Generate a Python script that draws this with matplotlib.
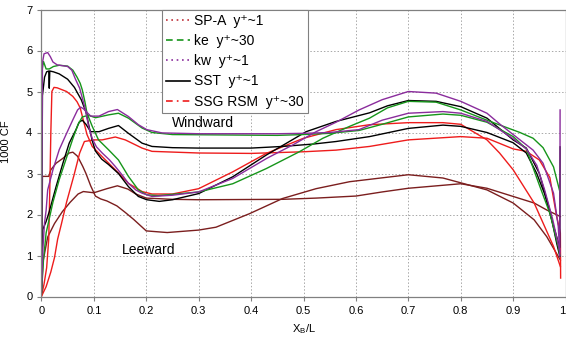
import matplotlib
matplotlib.use("Agg")
import matplotlib.pyplot as plt
from matplotlib.lines import Line2D

plt.rcParams['font.family'] = ['Liberation Sans', 'DejaVu Sans']
plt.rcParams['mathtext.fontset'] = 'custom'
plt.rcParams['mathtext.rm'] = 'Liberation Sans'

# ---- skin-friction data, 1000*CF versus X_B/L ----
# kw, y+~1
kw_lee_x = [0, 0.002, 0.005, 0.012, 0.017, 0.022, 0.03, 0.05, 0.058, 0.065, 0.073, 0.08, 0.085, 0.09,
            0.097, 0.105, 0.116, 0.13, 0.141, 0.155, 0.166, 0.18, 0.192, 0.211, 0.25, 0.3, 0.365,
            0.43, 0.48, 0.524, 0.562, 0.606, 0.65, 0.7, 0.753, 0.8, 0.85, 0.875, 0.9, 0.938, 0.957,
            0.977, 0.986, 0.989, 0.9895]
kw_lee_y = [0.1, 5.7, 5.92, 5.95, 5.85, 5.72, 5.65, 5.61, 5.52, 5.3, 5.08, 4.75, 4.5, 4.15,
            3.85, 3.65, 3.5, 3.33, 3.17, 2.95, 2.76, 2.6, 2.52, 2.44, 2.47, 2.55, 2.88,
            3.37, 3.7, 4.02, 4.25, 4.55, 4.8, 5.0, 4.96, 4.76, 4.47, 4.2, 3.95, 3.57, 3.25,
            2.52, 1.71, 0.98, 4.55]
kw_wind_x = [0, 0.003, 0.006, 0.009, 0.012, 0.022, 0.034, 0.047, 0.06, 0.069, 0.075, 0.08, 0.094,
             0.11, 0.128, 0.145, 0.166, 0.185, 0.201, 0.23, 0.3, 0.45, 0.5, 0.55, 0.606, 0.65,
             0.7, 0.766, 0.8, 0.85, 0.9, 0.925, 0.945, 0.96, 0.975, 0.989]
kw_wind_y = [0.1, 1.2, 1.8, 2.1, 2.6, 3.09, 3.58, 3.95, 4.31, 4.55, 4.62, 4.58, 4.4,
             4.4, 4.51, 4.56, 4.39, 4.19, 4.07, 3.99, 3.97, 3.97, 3.98, 4.0, 4.07, 4.3,
             4.47, 4.51, 4.47, 4.27, 3.85, 3.6, 3.2, 2.6, 1.9, 1.1]

# ke, y+~30
ke_lee_x = [0, 0.001, 0.004, 0.009, 0.015, 0.023, 0.034, 0.05, 0.06, 0.068, 0.074, 0.078, 0.083,
            0.087, 0.097, 0.109, 0.128, 0.147, 0.166, 0.185, 0.201, 0.223, 0.3, 0.365, 0.429,
            0.492, 0.537, 0.588, 0.626, 0.66, 0.7, 0.753, 0.8, 0.85, 0.875, 0.913, 0.938, 0.957,
            0.977, 0.989]
ke_lee_y = [0.1, 5.5, 5.73, 5.55, 5.55, 5.61, 5.64, 5.62, 5.52, 5.35, 5.2, 5.04, 4.75,
            4.47, 4.15, 3.82, 3.58, 3.33, 2.93, 2.6, 2.48, 2.46, 2.55, 2.75, 3.12,
            3.53, 3.86, 4.15, 4.35, 4.6, 4.76, 4.74, 4.55, 4.3, 4.18, 4.0, 3.86, 3.63,
            3.16, 2.56]
ke_wind_x = [0, 0.004, 0.009, 0.022, 0.034, 0.047, 0.06, 0.07, 0.078, 0.09, 0.103, 0.128, 0.147,
             0.166, 0.192, 0.211, 0.25, 0.35, 0.45, 0.5, 0.55, 0.606, 0.65, 0.7, 0.766, 0.8,
             0.85, 0.9, 0.925, 0.951, 0.97, 0.986, 0.989]
ke_wind_y = [0.05, 0.9, 1.55, 2.3, 2.85, 3.35, 3.85, 4.2, 4.38, 4.42, 4.36, 4.43, 4.47,
             4.35, 4.11, 4.0, 3.95, 3.94, 3.93, 3.95, 3.98, 4.05, 4.2, 4.38, 4.45, 4.42,
             4.25, 3.9, 3.6, 2.68, 2.03, 1.21, 1.0]

# SST, y+~1
sst_lee_x = [0, 0.002, 0.006, 0.01, 0.014, 0.015, 0.016, 0.023, 0.034, 0.05, 0.063, 0.076, 0.085,
             0.09, 0.097, 0.103, 0.115, 0.128, 0.147, 0.166, 0.185, 0.201, 0.225, 0.25, 0.3,
             0.365, 0.429, 0.473, 0.505, 0.562, 0.626, 0.66, 0.7, 0.753, 0.8, 0.85, 0.9, 0.925,
             0.95, 0.97, 0.983, 0.989]
sst_lee_y = [0.1, 4.9, 5.35, 5.48, 5.5, 5.08, 5.5, 5.48, 5.43, 5.3, 5.1, 4.8, 4.5,
             4.2, 3.8, 3.55, 3.35, 3.22, 3.0, 2.68, 2.44, 2.36, 2.32, 2.36, 2.51,
             2.92, 3.45, 3.78, 4.02, 4.27, 4.48, 4.65, 4.78, 4.76, 4.63, 4.35, 3.82, 3.62,
             3.0, 2.1, 1.3, 0.98]
sst_wind_x = [0, 0.0025, 0.009, 0.015, 0.028, 0.041, 0.053, 0.066, 0.072, 0.078, 0.085, 0.094,
              0.11, 0.128, 0.147, 0.166, 0.192, 0.211, 0.25, 0.3, 0.4, 0.46, 0.52, 0.562, 0.626,
              0.7, 0.766, 0.8, 0.85, 0.9, 0.925, 0.945, 0.96, 0.975, 0.989, 0.9895]
sst_wind_y = [0.1, 1.63, 1.83, 2.07, 2.68, 3.25, 3.74, 4.07, 4.25, 4.3, 4.2, 4.02,
              4.02, 4.1, 4.17, 3.98, 3.74, 3.66, 3.63, 3.62, 3.62, 3.66, 3.72, 3.78, 3.9,
              4.1, 4.18, 4.15, 4.0, 3.75, 3.5, 3.0, 2.5, 1.8, 1.2, 3.65]

# SSG RSM, y+~30
ssg_lee_x = [0, 0.005, 0.01, 0.014, 0.016, 0.018, 0.02, 0.024, 0.03, 0.048, 0.06, 0.068, 0.074,
             0.08, 0.087, 0.097, 0.116, 0.141, 0.166, 0.192, 0.211, 0.25, 0.3, 0.365, 0.429,
             0.5, 0.562, 0.626, 0.7, 0.766, 0.8, 0.85, 0.874, 0.9, 0.94, 0.977, 0.99]
ssg_lee_y = [0.0, 0.3, 0.7, 1.4, 2.6, 4.0, 5.0, 5.1, 5.09, 5.0, 4.88, 4.75, 4.6,
             4.3, 3.95, 3.66, 3.41, 3.09, 2.76, 2.56, 2.5, 2.5, 2.63, 3.04, 3.49,
             3.86, 4.07, 4.19, 4.24, 4.24, 4.2, 3.82, 3.5, 3.09, 2.28, 1.22, 0.73]
ssg_wind_x = [0, 0.009, 0.018, 0.025, 0.031, 0.038, 0.048, 0.062, 0.073, 0.082, 0.1, 0.116,
              0.141, 0.16, 0.192, 0.211, 0.3, 0.4, 0.5, 0.562, 0.626, 0.7, 0.8, 0.85, 0.9,
              0.925, 0.95, 0.97, 0.983, 0.99, 0.9905]
ssg_wind_y = [0.0, 0.24, 0.6, 0.95, 1.4, 1.76, 2.3, 2.95, 3.5, 3.78, 3.82, 3.82,
              3.89, 3.82, 3.62, 3.54, 3.5, 3.49, 3.53, 3.57, 3.66, 3.82, 3.9, 3.86, 3.6,
              3.54, 3.33, 2.9, 1.95, 1.55, 0.45]

# SP-A, y+~1
spa_lee_x = [0, 0.002, 0.014, 0.018, 0.028, 0.041, 0.053, 0.06, 0.069, 0.079, 0.085, 0.094,
             0.103, 0.113, 0.125, 0.144, 0.16, 0.176, 0.2, 0.24, 0.3, 0.333, 0.397, 0.46,
             0.524, 0.588, 0.7, 0.766, 0.85, 0.9, 0.94, 0.964, 0.99]
spa_lee_y = [0.1, 2.93, 2.93, 3.09, 3.25, 3.37, 3.5, 3.52, 3.42, 3.17, 3.0, 2.7,
             2.45, 2.38, 2.33, 2.21, 2.05, 1.88, 1.6, 1.56, 1.62, 1.69, 2.02, 2.39,
             2.63, 2.8, 2.97, 2.89, 2.6, 2.28, 1.87, 1.46, 0.89]
spa_wind_x = [0, 0.003, 0.012, 0.025, 0.04, 0.055, 0.07, 0.08, 0.1, 0.125, 0.145, 0.165, 0.18,
              0.2, 0.25, 0.3, 0.46, 0.524, 0.6, 0.65, 0.7, 0.8, 0.85, 0.9, 0.94, 0.964, 0.99]
spa_wind_y = [0.05, 0.85, 1.45, 1.78, 2.07, 2.3, 2.5, 2.56, 2.53, 2.63, 2.7, 2.62, 2.5,
              2.4, 2.37, 2.36, 2.37, 2.4, 2.45, 2.55, 2.64, 2.75, 2.64, 2.44, 2.28, 2.11, 1.95]

model_labels = ['SP-A  y\u207a~1', 'ke  y\u207a~30', 'kw  y\u207a~1', 'SST  y\u207a~1',
                'SSG RSM  y\u207a~30']
x_ticks = [0, 0.1, 0.2, 0.3, 0.4, 0.5, 0.6, 0.7, 0.8, 0.9, 1]
x_tick_labels = ['0', '0.1', '0.2', '0.3', '0.4', '0.5', '0.6', '0.7', '0.8', '0.9', '1']
y_ticks = [0, 1, 2, 3, 4, 5, 6, 7]

C_SPA = '#7b1e1e'
C_KE = '#16951a'
C_KW = '#8a2c9c'
C_SST = '#000000'
C_SSG = '#ee1c1c'

fig = plt.figure(figsize=(5.66, 3.40), dpi=100)
ax = fig.add_axes([41.4 / 566, 43.5 / 340, 524.2 / 566, 287 / 340])

lw = 1.0
ax.plot(spa_lee_x, spa_lee_y, color=C_SPA, lw=lw)
ax.plot(spa_wind_x, spa_wind_y, color=C_SPA, lw=lw)
ax.plot(ssg_wind_x, ssg_wind_y, color=C_SSG, lw=lw)
ax.plot(ssg_lee_x, ssg_lee_y, color=C_SSG, lw=lw)
ax.plot(sst_wind_x, sst_wind_y, color=C_SST, lw=lw)
ax.plot(sst_lee_x, sst_lee_y, color=C_SST, lw=lw)
ax.plot(ke_wind_x, ke_wind_y, color=C_KE, lw=lw)
ax.plot(ke_lee_x, ke_lee_y, color=C_KE, lw=lw)
ax.plot(kw_wind_x, kw_wind_y, color=C_KW, lw=lw)
ax.plot(kw_lee_x, kw_lee_y, color=C_KW, lw=lw)

ax.set_xlim(0, 1)
ax.set_ylim(0, 7)
ax.set_xticks(x_ticks)
ax.set_xticklabels(x_tick_labels)
ax.set_yticks(y_ticks)
ax.tick_params(labelsize=8, length=3, color='#808080', width=0.8)
ax.get_xticklabels()[-1].set_horizontalalignment('right')
ax.grid(True, linestyle=(0, (1.5, 2)), color='#a8a8a8', linewidth=0.7)
for s in ax.spines.values():
    s.set_color('#808080')
    s.set_linewidth(0.9)

ax.set_xlabel(r'X$_\mathregular{B}$/L', fontsize=8, labelpad=5)
ax.set_ylabel('1000 CF', fontsize=8)
ax.yaxis.set_label_coords(-0.058, 0.54)

ax.text(0.249, 4.22, 'Windward', fontsize=10, va='center', ha='left')
ax.text(0.153, 1.13, 'Leeward', fontsize=10, va='center', ha='left')

handles = [
    Line2D([], [], color='#c0303a', lw=1.2, linestyle=(0, (1, 2.2))),
    Line2D([], [], color=C_KE, lw=1.2, linestyle=(0, (4, 2.5))),
    Line2D([], [], color=C_KW, lw=1.2, linestyle=(0, (1, 2.2))),
    Line2D([], [], color=C_SST, lw=1.2, linestyle='-'),
    Line2D([], [], color=C_SSG, lw=1.2, linestyle=(0, (4, 2.5, 1, 2.5))),
]
leg = ax.legend(handles, model_labels, loc='upper left', bbox_to_anchor=(0.23, 1.0),
                borderaxespad=0, fontsize=10, handlelength=1.7, handletextpad=0.3,
                labelspacing=0.45, borderpad=0.3, fancybox=False, framealpha=1,
                edgecolor='#808080')
leg.get_frame().set_linewidth(0.8)

fig.savefig('out.png', dpi=100)
